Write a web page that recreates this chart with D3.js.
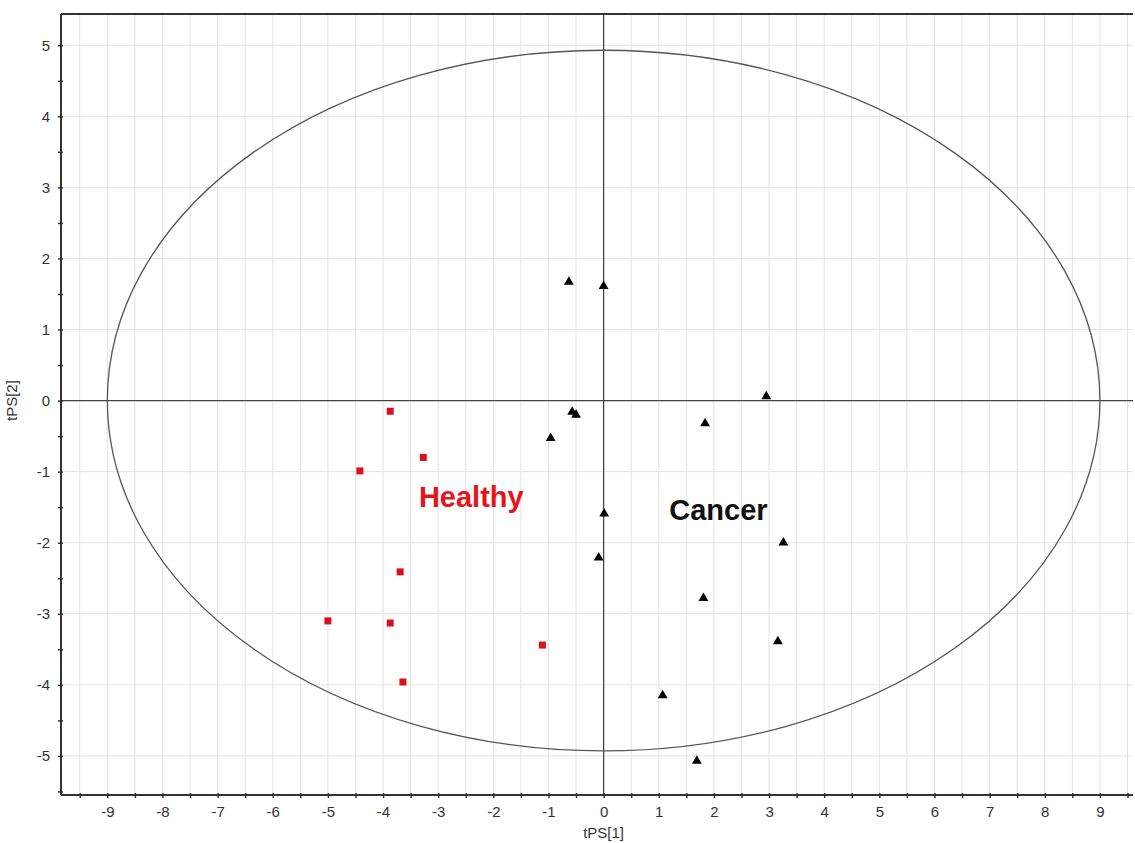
<!DOCTYPE html>
<html>
<head>
<meta charset="utf-8">
<script src="https://cdn.jsdelivr.net/npm/d3@7"></script>
<style>
  body { margin: 0; background: #fff; }
  svg { display: block; font-family: "Liberation Sans", Arial, sans-serif; }
</style>
</head>
<body>
<div id="chart"></div>
<script>
// Healthy (red squares)
const healthyX = [-3.87, -4.42, -3.27, -3.69, -5.00, -3.87, -3.64, -1.11];
const healthyY = [-0.15, -0.99, -0.80, -2.41, -3.10, -3.13, -3.96, -3.44];

// Cancer (black triangles)
const cancerX = [-0.63, 0.00, 2.95, -0.57, -0.50, 1.84, -0.96, 0.01, -0.09, 3.26, 1.81, 3.16, 1.07, 1.69];
const cancerY = [1.67, 1.61, 0.06, -0.16, -0.20, -0.32, -0.53, -1.59, -2.21, -2.00, -2.78, -3.39, -4.15, -5.07];

const xLabelTicks = [-9, -8, -7, -6, -5, -4, -3, -2, -1, 0, 1, 2, 3, 4, 5, 6, 7, 8, 9];
const yLabelTicks = [-5, -4, -3, -2, -1, 0, 1, 2, 3, 4, 5];
const xMinorTicks = d3.range(-19, 20).map(d => d / 2);
const yMinorTicks = d3.range(-11, 11).map(d => d / 2);

// Hotelling T2 ellipse semi-axes
const ellipseA = 9.0;
const ellipseB = 4.93;

const groupLabels = [
    { text: "Healthy", x: -3.35, y: -1.50, color: "#e8141c" },
    { text: "Cancer", x: 1.19, y: -1.68, color: "#111" }
];

const width = 1135, height = 843;
const plot = { left: 61, right: 1133, top: 14, bottom: 795 };

const svg = d3.select("#chart").append("svg")
    .attr("width", width)
    .attr("height", height);

const x = d3.scaleLinear().domain([-9.84, 9.6]).range([plot.left, plot.right]);
const y = d3.scaleLinear().domain([-5.55, 5.44]).range([plot.bottom, plot.top]);

// grid
svg.append("g").selectAll("line")
    .data(xMinorTicks)
    .enter().append("line")
    .attr("x1", d => x(d)).attr("x2", d => x(d))
    .attr("y1", plot.top).attr("y2", plot.bottom)
    .attr("stroke", "#e4e4e4").attr("stroke-width", 1);

svg.append("g").selectAll("line")
    .data(yLabelTicks)
    .enter().append("line")
    .attr("x1", plot.left).attr("x2", plot.right)
    .attr("y1", d => y(d)).attr("y2", d => y(d))
    .attr("stroke", "#e4e4e4").attr("stroke-width", 1);

// zero lines
svg.append("line")
    .attr("x1", x(0)).attr("x2", x(0))
    .attr("y1", plot.top).attr("y2", plot.bottom)
    .attr("stroke", "#444").attr("stroke-width", 1.3);
svg.append("line")
    .attr("x1", plot.left).attr("x2", plot.right)
    .attr("y1", y(0)).attr("y2", y(0))
    .attr("stroke", "#444").attr("stroke-width", 1.3);

// ellipse
svg.append("ellipse")
    .attr("cx", x(0)).attr("cy", y(0))
    .attr("rx", x(ellipseA) - x(0))
    .attr("ry", y(0) - y(ellipseB))
    .attr("fill", "none")
    .attr("stroke", "#555").attr("stroke-width", 1.3);

// axes
const xAxis = svg.append("g")
    .attr("transform", `translate(0,${plot.bottom})`)
    .call(d3.axisBottom(x).tickValues(xMinorTicks).tickSize(3)
        .tickFormat(d => Number.isInteger(d) && Math.abs(d) <= 9 ? d : ""));
xAxis.select(".domain").remove();
xAxis.selectAll(".tick line").attr("y1", -2).attr("y2", 3).attr("stroke", "#333").attr("stroke-width", 1.5);
xAxis.selectAll(".tick text").attr("dy", "1.05em").attr("font-size", 15).attr("fill", "#333");

const yAxis = svg.append("g")
    .attr("transform", `translate(${plot.left},0)`)
    .call(d3.axisLeft(y).tickValues(yMinorTicks).tickSize(3)
        .tickFormat(d => Number.isInteger(d) && Math.abs(d) <= 5 ? d : ""));
yAxis.select(".domain").remove();
yAxis.selectAll(".tick line").attr("x1", -3).attr("x2", 2).attr("stroke", "#333").attr("stroke-width", 1.5);
yAxis.selectAll(".tick text").attr("x", -11).attr("font-size", 15).attr("fill", "#333");

// frame lines
svg.append("line")
    .attr("x1", plot.left).attr("x2", plot.right)
    .attr("y1", plot.bottom).attr("y2", plot.bottom)
    .attr("stroke", "#333").attr("stroke-width", 2);
svg.append("line")
    .attr("x1", plot.left).attr("x2", plot.left)
    .attr("y1", plot.top).attr("y2", plot.bottom)
    .attr("stroke", "#333").attr("stroke-width", 2);
svg.append("line")
    .attr("x1", plot.left).attr("x2", plot.right)
    .attr("y1", plot.top).attr("y2", plot.top)
    .attr("stroke", "#333").attr("stroke-width", 2);

// axis titles
svg.append("text")
    .attr("x", x(0)).attr("y", 838)
    .attr("text-anchor", "middle")
    .attr("font-size", 15).attr("fill", "#333")
    .text("tPS[1]");
svg.append("text")
    .attr("transform", `translate(17,${y(0)}) rotate(-90)`)
    .attr("text-anchor", "middle")
    .attr("font-size", 15).attr("fill", "#333")
    .text("tPS[2]");

// points
const healthy = healthyX.map((v, i) => ({ x: v, y: healthyY[i] }));
const cancer = cancerX.map((v, i) => ({ x: v, y: cancerY[i] }));

svg.selectAll(".healthy")
    .data(healthy)
    .enter().append("rect")
    .attr("class", "healthy")
    .attr("x", d => x(d.x) - 3.5)
    .attr("y", d => y(d.y) - 3.5)
    .attr("width", 7).attr("height", 7)
    .attr("fill", "#d8111b");

const tri = d3.symbol().type(d3.symbolTriangle).size(42);
svg.selectAll(".cancer")
    .data(cancer)
    .enter().append("path")
    .attr("class", "cancer")
    .attr("transform", d => `translate(${x(d.x)},${y(d.y)})`)
    .attr("d", tri)
    .attr("fill", "#000");

// group labels
svg.selectAll(".glabel")
    .data(groupLabels)
    .enter().append("text")
    .attr("class", "glabel")
    .attr("x", d => x(d.x))
    .attr("y", d => y(d.y))
    .attr("font-size", 29)
    .attr("font-weight", "bold")
    .attr("fill", d => d.color)
    .text(d => d.text);
</script>
</body>
</html>
